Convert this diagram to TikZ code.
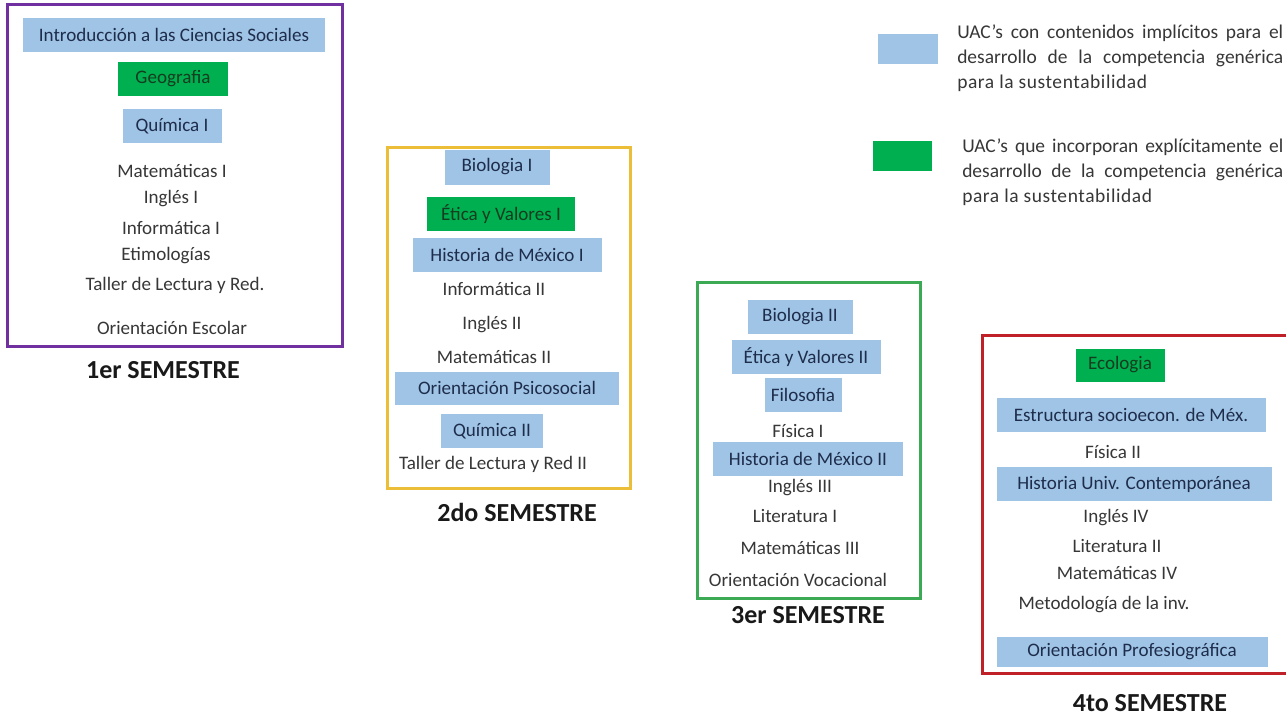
\documentclass[tikz,border=0pt]{standalone}
\usepackage{fontspec}
\setmainfont{Carlito}

\definecolor{uacblue}{RGB}{160,196,230}
\definecolor{uacgreen}{RGB}{0,176,80}
\definecolor{uacnavy}{RGB}{30,45,75}
\definecolor{uacdark}{RGB}{20,60,30}
\definecolor{uacgray}{RGB}{55,55,55}
\definecolor{semone}{RGB}{112,48,160}
\definecolor{semtwo}{RGB}{236,190,56}
\definecolor{semthree}{RGB}{60,170,85}
\definecolor{semfour}{RGB}{192,32,40}

\def\px{0.75pt}
\newcommand{\lastline}[1]{{\addfontfeature{LetterSpace=3}#1}}

\tikzset{
  item/.style={font=\fontsize{14.3}{17}\selectfont, inner sep=0pt, text=uacgray},
  implicit/.style={item, fill=uacblue, text=uacnavy, minimum height=34*\px},
  explicit/.style={item, fill=uacgreen, text=uacdark, minimum height=34*\px},
  semlabel/.style={font=\bfseries\fontsize{19.5}{22}\selectfont, inner sep=0pt, text=black!90},
  sembox/.style={line width=3*\px},
  keytext/.style={item, anchor=north west, text width=326*\px, align=justify,
    font=\fontsize{14.6}{18.4}\selectfont}
}

\begin{document}
\begin{tikzpicture}[x=\px, y=-\px]
\path[use as bounding box] (0,0) rectangle (1286,717);
\clip (0,0) rectangle (1286,717);
\fill[white] (0,0) rectangle (1286,717);

% semester frames
\draw[sembox, draw=semone] (7,5) rectangle (342,346);
\draw[sembox, draw=semtwo] (387,147) rectangle (630,488);
\draw[sembox, draw=semthree] (697,282) rectangle (920,598);
\draw[sembox, draw=semfour] (982,335) rectangle (1300,673);

% 1er semestre
\node[implicit, minimum width=302*\px] (intro) at (174,35) {Introducción a las Ciencias Sociales};
\node[explicit, minimum width=110*\px] (geo) at (173,79) {Geografia};
\node[implicit, minimum width=99*\px] (quima) at (172,126) {Química I};
\node[item] (mata) at (172,171) {Matemáticas I};
\node[item] (inga) at (171,199) {Inglés I};
\node[item] (infa) at (171,228) {Informática I};
\node[item] (eti) at (166,256) {Etimologías};
\node[item] (tlra) at (175,285) {Taller de Lectura y Red.};
\node[item] (ore) at (172,328) {Orientación Escolar};
\node[semlabel] (sema) at (163,370) {1er SEMESTRE};

% 2do semestre
\node[implicit, minimum width=105*\px, minimum height=35*\px] (bioa) at (497,167) {Biologia I};
\node[explicit, minimum width=148*\px] (etva) at (501,214) {Ética y Valores I};
\node[implicit, minimum width=189*\px] (hisa) at (507,255) {Historia de México I};
\node[item] (infb) at (494,289) {Informática II};
\node[item] (ingb) at (492,325) {Inglés II};
\node[item] (matb) at (494,357) {Matemáticas II};
\node[implicit, minimum width=224*\px, minimum height=33*\px] (orps) at (507,388) {Orientación Psicosocial};
\node[implicit, minimum width=102*\px] (quimb) at (492,431) {Química II};
\node[item] (tlrb) at (493,464) {Taller de Lectura y Red II};
\node[semlabel] (semb) at (517,512) {2do SEMESTRE};

% 3er semestre
\node[implicit, minimum width=105*\px] (biob) at (800,317) {Biologia II};
\node[implicit, minimum width=149*\px] (etvb) at (806,357) {Ética y Valores II};
\node[implicit, minimum width=77*\px] (filo) at (803,395) {Filosofia};
\node[item] (fisa) at (798,431) {Física I};
\node[implicit, minimum width=190*\px] (hisb) at (808,459) {Historia de México II};
\node[item] (ingc) at (800,488) {Inglés III};
\node[item] (lita) at (795,516) {Literatura I};
\node[item] (matc) at (800,548) {Matemáticas III};
\node[item] (orv) at (798,580) {Orientación Vocacional};
\node[semlabel] (semc) at (808,615) {3er SEMESTRE};

% 4to semestre
\node[explicit, minimum width=89*\px, minimum height=33*\px] (eco) at (1120,365) {Ecologia};
\node[implicit, minimum width=269*\px] (estr) at (1131,415) {Estructura socioecon. de Méx.};
\node[item] (fisb) at (1113,452) {Física II};
\node[implicit, minimum width=275*\px] (hun) at (1134,484) {Historia Univ. Contemporánea};
\node[item] (ingd) at (1116,518) {Inglés IV};
\node[item] (litb) at (1117,546) {Literatura II};
\node[item] (matd) at (1117,573) {Matemáticas IV};
\node[item] (met) at (1104,605) {Metodología de la inv.};
\node[implicit, minimum width=271*\px, minimum height=30*\px] (orpf) at (1132,652) {Orientación Profesiográfica};
\node[semlabel] (semd) at (1150,703) {4to SEMESTRE};

% legend
\node[implicit, minimum width=60*\px, minimum height=30*\px] (keyimp) at (908,49) {};
\node[keytext] (keyimptx) at (957,25) {UAC’s con contenidos implícitos para el\linebreak desarrollo de la competencia genérica\linebreak \lastline{para la sustentabilidad}};
\node[explicit, minimum width=59*\px, minimum height=30*\px] (keyexp) at (902,156) {};
\node[keytext, text width=321*\px] (keyexptx) at (962,139) {UAC’s que incorporan explícitamente el\linebreak desarrollo de la competencia genérica\linebreak \lastline{para la sustentabilidad}};
\end{tikzpicture}
\end{document}
